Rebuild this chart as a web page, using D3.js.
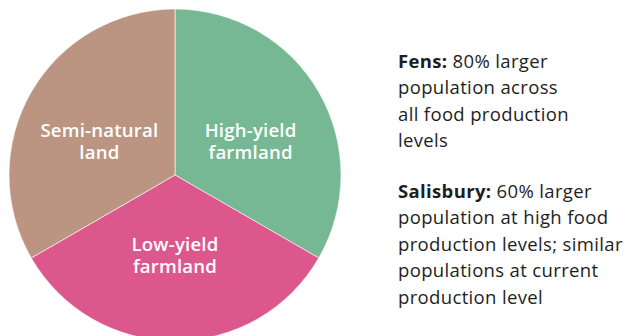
<!DOCTYPE html>
<html>
<head>
<meta charset="utf-8">
<script src="https://cdn.jsdelivr.net/npm/d3@7"></script>
<style>
  html, body { margin: 0; padding: 0; background: #ffffff; }
  svg { display: block; }
  text { font-family: "Open Sans", Lato, sans-serif; }
</style>
</head>
<body>
<svg id="chart" width="631" height="336"></svg>
<script>
// Land-use split: three equal shares
const categories = ["High-yield farmland", "Low-yield farmland", "Semi-natural land"];
const shares = [1, 1, 1];
const labelLines = [["High-yield", "farmland"], ["Low-yield", "farmland"], ["Semi-natural", "land"]];
const colors = ["#76b893", "#dc588c", "#bb9581"];

// Side notes: bold heading followed by wrapped lines
const fensLines = [["Fens:", " 80% larger"], ["", "population across"], ["", "all food production"], ["", "levels"]];
const salisburyLines = [["Salisbury:", " 60% larger"], ["", "population at high food"], ["", "production levels; similar"], ["", "populations at current"], ["", "production level"]];

const svg = d3.select("#chart");
const cx = 175, cy = 175, radius = 166;

const pie = d3.pie().sort(null).value(d => d.value);
const arcs = pie(categories.map((c, i) => ({ name: c, value: shares[i], lines: labelLines[i], color: colors[i] })));

const arc = d3.arc().innerRadius(0).outerRadius(radius);

const g = svg.append("g").attr("transform", `translate(${cx},${cy})`);

g.selectAll("path.slice")
  .data(arcs)
  .join("path")
  .attr("class", "slice")
  .attr("d", arc)
  .attr("fill", d => d.data.color)
  .attr("stroke", "#ffffff")
  .attr("stroke-width", 0.6);

// Labels sit a little below each slice's mid-angle so they read level
const labelR = 82;
const labelPos = d => {
  const mid = (d.startAngle + d.endAngle) / 2;
  const a = Math.PI + (mid - Math.PI) * 0.94;
  return d3.pointRadial(a, labelR);
};

const lineH = 22.5;
g.selectAll("text.slice-label")
  .data(arcs)
  .join("text")
  .attr("class", "slice-label")
  .attr("text-anchor", "middle")
  .attr("fill", "#ffffff")
  .attr("font-size", 18.6)
  .attr("font-weight", 600)
  .attr("letter-spacing", 0.2)
  .each(function (d) {
    const [x, y] = labelPos(d);
    const t = d3.select(this);
    const n = d.data.lines.length;
    d.data.lines.forEach((ln, i) => {
      t.append("tspan")
        .attr("x", x)
        .attr("y", y + (i - (n - 1) / 2) * lineH + 5)
        .text(ln);
    });
  });

function note(lines, x, y0) {
  const t = svg.append("text")
    .attr("x", x)
    .attr("y", y0)
    .attr("font-size", 18.5)
    .attr("letter-spacing", 0.35)
    .attr("fill", "#1e1e1e");
  lines.forEach((ln, i) => {
    if (ln[0]) {
      t.append("tspan").attr("x", x).attr("y", y0 + i * 26.4).attr("font-weight", 700).text(ln[0]);
      t.append("tspan").text(ln[1]);
    } else {
      t.append("tspan").attr("x", x).attr("y", y0 + i * 26.4).text(ln[1]);
    }
  });
}
note(fensLines, 398, 68);
note(salisburyLines, 398, 198);
</script>
</body>
</html>
